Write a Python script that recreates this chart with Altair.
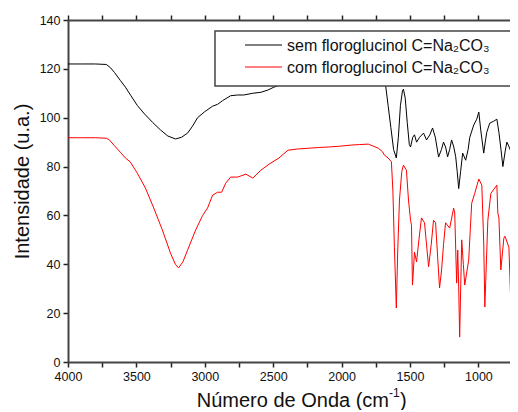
import altair as alt
import pandas as pd

# black: sem floroglucinol
sem_w = [4000, 3900, 3800, 3720, 3690, 3660, 3618, 3580, 3540, 3493, 3440, 3380, 3324, 3270, 3214, 3170,
         3126, 3090, 3053, 3000, 2943, 2906, 2870, 2811, 2760, 2715, 2650, 2590, 2540, 2495, 2443, 2400,
         2300, 2200, 2100, 2000, 1900, 1800, 1720, 1680, 1660, 1640, 1620, 1600, 1585, 1570, 1555, 1548,
         1535, 1520, 1505, 1496, 1480, 1467, 1452, 1430, 1401, 1379, 1355, 1335, 1315, 1291, 1270, 1255,
         1240, 1225, 1210, 1196, 1180, 1166, 1155, 1144, 1130, 1115, 1093, 1075, 1063, 1034, 1012, 997,
         983, 961, 950, 939, 917, 890, 865, 850, 835, 821, 805, 792, 775, 762, 745, 733, 720, 710]
sem_v = [122, 122, 122, 121.8, 120.5, 118.5, 115.3, 112.5, 109, 105, 101.5, 98, 95, 92.5, 91.3, 92,
         93.7, 96.5, 100, 102.5, 104.7, 105.5, 107, 109, 109.3, 109.3, 110, 110.4, 111.3, 112.5, 113.5, 114.5,
         115.5, 116.5, 117, 117.5, 118, 118, 117, 114, 105, 96, 87, 83.5, 92, 105, 111, 111.7,
         108, 98, 89, 88, 92, 93, 90, 92, 93.7, 90.9, 93, 95.8, 92, 83.9, 87, 90,
         88, 84, 87, 90.9, 88, 84, 78, 71, 78, 85.5, 82.6, 87, 92, 97, 99.4, 102.3,
         95, 85.5, 90, 94, 97.8, 98.5, 99.4, 94, 87, 80, 86, 90, 88, 86, 85, 84, 85, 84.5]

# red: com floroglucinol
com_w = [4000, 3900, 3800, 3720, 3699, 3660, 3618, 3580, 3545, 3493, 3434, 3376, 3310, 3251, 3215, 3192,
         3160, 3126, 3067, 3016, 2980, 2943, 2906, 2877, 2847, 2811, 2759, 2700, 2649, 2590, 2530, 2458,
         2392, 2320, 2245, 2170, 2098, 2020, 1930, 1870, 1805, 1731, 1700, 1687, 1660, 1636, 1625, 1614,
         1600, 1590, 1577, 1560, 1548, 1526, 1511, 1496, 1489, 1482, 1467, 1452, 1435, 1416, 1394, 1364,
         1345, 1328, 1313, 1298, 1284, 1269, 1255, 1240, 1210, 1181, 1173, 1159, 1151, 1144, 1137, 1122,
         1110, 1100, 1071, 1049, 1027, 997, 975, 961, 953, 931, 909, 865, 858, 850, 836, 814, 806, 777,
         762, 740, 733, 711]
com_v = [91.8, 91.8, 91.8, 91.6, 91, 88.5, 85.9, 83.5, 81.9, 77.3, 71.2, 63.4, 54, 44.6, 40, 38.5,
         41, 45.8, 54, 60, 63, 68.3, 69.5, 69.5, 73.2, 75.7, 75.7, 76.9, 75.3, 78.5, 81, 83.5,
         86.7, 87.2, 87.5, 87.8, 88, 88.3, 88.8, 89, 89.2, 87.5, 86, 84.7, 83.5, 82, 70, 47,
         22.1, 45, 66.3, 78, 80.6, 78.5, 66.3, 58, 56, 31.5, 45, 41, 50, 59, 57, 39,
         48, 58, 57, 43, 30.3, 37.7, 48, 57, 54.8, 63, 61, 32.3, 45.8, 30.7, 10.2, 50,
         40, 31.5, 41.7, 65, 69, 74.9, 72.4, 48.7, 22.5, 58, 69, 72.4, 61, 59, 37.7, 50.7, 51.5, 47,
         22.1, 40.5, 25.4, 37.7]

series_names = ["sem floroglucinol C=Na\u2082CO\u2083", "com floroglucinol C=Na\u2082CO\u2083"]
x_ticks = list(range(4000, 700, -250))
y_ticks = list(range(0, 141, 10))

FONT = "Liberation Sans"
sem_df = pd.DataFrame({"w": sem_w, "v": sem_v})
com_df = pd.DataFrame({"w": com_w, "v": com_v})

xscale = alt.Scale(domain=[4000, 769], nice=False, zero=False)
yscale = alt.Scale(domain=[0, 140], nice=False)

common_axis = dict(domainColor="#444444", domainWidth=2, tickColor="#222222", tickWidth=1.5,
                   tickSize=5, labelFont=FONT, labelFontSize=12.5, labelColor="#111111",
                   grid=False, labelPadding=3, labelFlush=False, labelOverlap=False)

x_bottom = alt.Axis(values=x_ticks, labelExpr="datum.value % 500 == 0 ? datum.label : ''",
                    title=None, format="d", orient="bottom", **common_axis)
x_top = alt.Axis(values=x_ticks, labels=False, title=None, orient="top", **common_axis)
y_left = alt.Axis(values=y_ticks, labelExpr="datum.value % 20 == 0 ? datum.label : ''",
                  title="Intensidade (u.a.)", titleFont=FONT, titleFontSize=20, titleFontWeight="normal",
                  titleColor="#111111", titleAngle=-90, titleX=-40, titleY=161,
                  titleBaseline="alphabetic", titleAlign="center", **common_axis)

sem_line = alt.Chart(sem_df).mark_line(color="black", strokeWidth=1, clip=True).encode(
    x=alt.X("w:Q", scale=xscale, axis=x_bottom),
    y=alt.Y("v:Q", scale=yscale, axis=y_left),
    order=alt.Order("w:Q", sort="descending"),
)
com_line = alt.Chart(com_df).mark_line(color="#ff0000", strokeWidth=1, clip=True).encode(
    x=alt.X("w:Q", scale=xscale, axis=x_top),
    y=alt.Y("v:Q", scale=yscale),
    order=alt.Order("w:Q", sort="descending"),
)

one = pd.DataFrame({"a": [0]})
legend_box = alt.Chart(one).mark_rect(fill="white", stroke="#444444", strokeWidth=1.5).encode(
    x=alt.value(147), x2=alt.value(480), y=alt.value(11), y2=alt.value(66))
leg_black = alt.Chart(one).mark_rule(color="black", strokeWidth=1).encode(
    x=alt.value(177), x2=alt.value(214), y=alt.value(25))
leg_red = alt.Chart(one).mark_rule(color="#ff0000", strokeWidth=1).encode(
    x=alt.value(177), x2=alt.value(214), y=alt.value(47))
leg_t1 = alt.Chart(pd.DataFrame({"t": [series_names[0]]})).mark_text(
    font=FONT, fontSize=16, align="left", baseline="middle", color="#111111").encode(
    x=alt.value(219), y=alt.value(26), text="t:N")
leg_t2 = alt.Chart(pd.DataFrame({"t": [series_names[1]]})).mark_text(
    font=FONT, fontSize=16, align="left", baseline="middle", color="#111111").encode(
    x=alt.value(219), y=alt.value(48), text="t:N")

xt1 = alt.Chart(pd.DataFrame({"t": ["Número de Onda (cm"]})).mark_text(
    font=FONT, fontSize=20, align="right", baseline="alphabetic", color="#111111").encode(
    x=alt.value(321), y=alt.value(387), text="t:N")
xt2 = alt.Chart(pd.DataFrame({"t": ["-1"]})).mark_text(
    font=FONT, fontSize=12, align="left", baseline="alphabetic", color="#111111").encode(
    x=alt.value(321), y=alt.value(377), text="t:N")
xt3 = alt.Chart(pd.DataFrame({"t": [")"]})).mark_text(
    font=FONT, fontSize=20, align="left", baseline="alphabetic", color="#111111").encode(
    x=alt.value(332), y=alt.value(387), text="t:N")

chart = alt.layer(sem_line, com_line, legend_box, leg_black, leg_red, leg_t1, leg_t2, xt1, xt2, xt3).properties(
    width=442, height=342,
    autosize=alt.AutoSizeParams(type="none"),
    padding={"left": 60, "top": 12, "right": 0, "bottom": 48},
).configure_view(stroke=None).configure(background="white")

chart.save("out.html", embed_options={"renderer": "svg", "actions": False})
